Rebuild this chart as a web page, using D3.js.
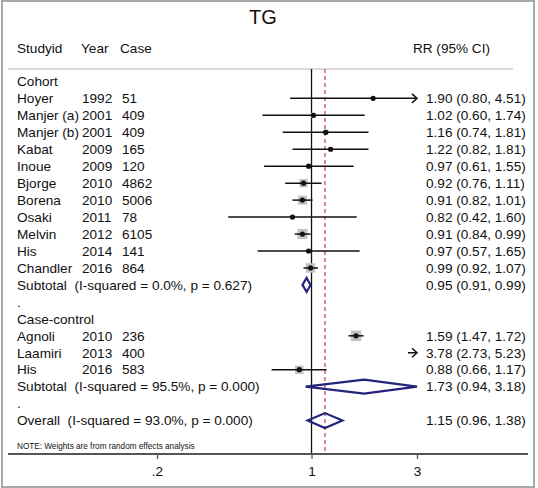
<!DOCTYPE html>
<html>
<head>
<meta charset="utf-8">
<script src="https://cdn.jsdelivr.net/npm/d3@7"></script>
<style>
  html, body { margin: 0; padding: 0; background: #fff; }
  svg { display: block; font-family: "Liberation Sans", Arial, sans-serif; }
  text { white-space: pre; }
</style>
</head>
<body>
<svg id="chart" width="538" height="488"></svg>
<script>
// ---------------- data ----------------
const chartTitle = "TG";
const headerLabels = ["Studyid", "Year", "Case", "RR (95% CI)"];
const groupNames = ["Cohort", "Case-control"];

const studyNames  = ["Hoyer", "Manjer (a)", "Manjer (b)", "Kabat", "Inoue", "Bjorge", "Borena", "Osaki", "Melvin", "His", "Chandler", "Agnoli", "Laamiri", "His"];
const studyGroups = ["Cohort", "Cohort", "Cohort", "Cohort", "Cohort", "Cohort", "Cohort", "Cohort", "Cohort", "Cohort", "Cohort", "Case-control", "Case-control", "Case-control"];
const studyYears  = [1992, 2001, 2001, 2009, 2009, 2010, 2010, 2011, 2012, 2014, 2016, 2010, 2013, 2016];
const studyCases  = [51, 409, 409, 165, 120, 4862, 5006, 78, 6105, 141, 864, 236, 400, 583];
const studyRR     = [1.90, 1.02, 1.16, 1.22, 0.97, 0.92, 0.91, 0.82, 0.91, 0.97, 0.99, 1.59, 3.78, 0.88];
const studyLower  = [0.80, 0.60, 0.74, 0.82, 0.61, 0.76, 0.82, 0.42, 0.84, 0.57, 0.92, 1.47, 2.73, 0.66];
const studyUpper  = [4.51, 1.74, 1.81, 1.81, 1.55, 1.11, 1.01, 1.60, 0.99, 1.65, 1.07, 1.72, 5.23, 1.17];
const studyWeight = [0.4, 2.5, 2.8, 2.0, 2.0, 7.0, 8.0, 1.6, 10.0, 1.8, 9.0, 11.0, 9.0, 7.0];

const subtotalLabels = ["Subtotal  (I-squared = 0.0%, p = 0.627)", "Subtotal  (I-squared = 95.5%, p = 0.000)"];
const subtotalRR    = [0.95, 1.73];
const subtotalLower = [0.91, 0.94];
const subtotalUpper = [0.99, 3.18];

const overallLabel = "Overall  (I-squared = 93.0%, p = 0.000)";
const overallRR = 1.15, overallLower = 0.96, overallUpper = 1.38;

const noteText = "NOTE: Weights are from random effects analysis";
const tickValues = [0.2, 1, 3];
const tickLabels = [".2", "1", "3"];

// ---------------- layout ----------------
const svg = d3.select("#chart");
const fmt = d3.format(".2f");
const fontSize = 13.6;
const navy = "#24237c";
const red = "#c0504d";

const x = d3.scaleLog().domain([0.2, 3]).range([157, 417]);
const xMin = 0.2, xMax = 3;

// rows
const rows = [];
groupNames.forEach((g, gi) => {
  rows.push({ type: "group", label: g });
  studyNames.forEach((n, i) => {
    if (studyGroups[i] === g) rows.push({ type: "study", i });
  });
  rows.push({ type: "subtotal", gi });
  rows.push({ type: "blank" });
});
rows.push({ type: "overall" });

const y = d3.scaleLinear().domain([0, 20]).range([81.4, 81.4 + 20 * 16.96]);
const boxSize = d3.scaleSqrt().domain([0, 11]).range([0, 10.5]);

// frame
svg.append("rect").attr("x", 2).attr("y", 1).attr("width", 532).attr("height", 486)
  .attr("fill", "#fff").attr("stroke", "#8a8a8a").attr("stroke-width", 1.5);

// title
svg.append("text").attr("x", 263).attr("y", 23.5).attr("text-anchor", "middle")
  .attr("font-size", 20).attr("fill", "#111").text(chartTitle);

// header
const colX = [17, 81, 120];
headerLabels.slice(0, 3).forEach((h, k) => {
  svg.append("text").attr("x", colX[k]).attr("y", 48).attr("dy", "0.35em")
    .attr("font-size", fontSize).attr("fill", "#111").text(h);
});
svg.append("text").attr("x", 490).attr("y", 48).attr("dy", "0.35em").attr("text-anchor", "end")
  .attr("font-size", fontSize).attr("fill", "#111").text(headerLabels[3]);

svg.append("line").attr("x1", 8).attr("x2", 513).attr("y1", 69).attr("y2", 69)
  .attr("stroke", "#cfcfcf").attr("stroke-width", 1.5);

// reference lines
svg.append("line").attr("x1", x(1)).attr("x2", x(1)).attr("y1", 69).attr("y2", 454)
  .attr("stroke", "#111").attr("stroke-width", 1.3);
svg.append("line").attr("x1", x(overallRR)).attr("x2", x(overallRR)).attr("y1", 69).attr("y2", 454)
  .attr("stroke", red).attr("stroke-width", 1.3).attr("stroke-dasharray", "4,3");

// axis
svg.append("line").attr("x1", 8).attr("x2", 528).attr("y1", 454).attr("y2", 454)
  .attr("stroke", "#555").attr("stroke-width", 2);
const axis = d3.axisBottom(x).tickValues(tickValues).tickFormat((d, k) => tickLabels[k]).tickSize(5).tickPadding(7);
const axG = svg.append("g").attr("transform", "translate(0,454)").call(axis);
axG.select(".domain").remove();
axG.selectAll(".tick line").attr("stroke", "#555").attr("stroke-width", 1.3);
axG.selectAll(".tick text").attr("font-size", fontSize).attr("fill", "#111")
  .attr("font-family", '"Liberation Sans", Arial, sans-serif');

// note
svg.append("text").attr("x", 17).attr("y", 446.5).attr("dy", "0.35em")
  .attr("font-size", 8.2).attr("fill", "#111").text(noteText);

function diamond(lo, mid, hi, cy, h) {
  const a = x(Math.max(lo, xMin)), m = x(mid), b = x(Math.min(hi, xMax));
  return `M${a},${cy} L${m},${cy - h} L${b},${cy} L${m},${cy + h} Z`;
}
function ciText(rr, lo, hi) {
  return `${fmt(rr)} (${fmt(lo)}, ${fmt(hi)})`;
}

rows.forEach((r, idx) => {
  const cy = y(idx);
  const txt = (xx, s) => svg.append("text").attr("x", xx).attr("y", cy).attr("dy", "0.35em")
    .attr("font-size", fontSize).attr("fill", "#111").text(s);
  if (r.type === "group") {
    txt(17, r.label);
  } else if (r.type === "blank") {
    txt(17, ".");
  } else if (r.type === "study") {
    const i = r.i;
    txt(17, studyNames[i]);
    txt(82, String(studyYears[i]));
    txt(122, String(studyCases[i]));
    txt(426, ciText(studyRR[i], studyLower[i], studyUpper[i]));
    const lo = Math.max(studyLower[i], xMin), hi = Math.min(studyUpper[i], xMax);
    if (studyRR[i] <= xMax && studyRR[i] >= xMin) {
      const s = boxSize(studyWeight[i]);
      svg.append("rect").attr("x", x(studyRR[i]) - s / 2).attr("y", cy - s / 2)
        .attr("width", s).attr("height", s).attr("fill", "#c2c2c2");
    }
    svg.append("line").attr("x1", x(lo)).attr("x2", x(hi)).attr("y1", cy).attr("y2", cy)
      .attr("stroke", "#111").attr("stroke-width", 1.5);
    if (studyUpper[i] > xMax) {
      const ax = x(xMax);
      svg.append("path").attr("d", `M${ax - 5},${cy - 4.5} L${ax},${cy} L${ax - 5},${cy + 4.5}`)
        .attr("fill", "none").attr("stroke", "#111").attr("stroke-width", 1.5);
    }
    if (studyRR[i] <= xMax && studyRR[i] >= xMin) {
      svg.append("circle").attr("cx", x(studyRR[i])).attr("cy", cy).attr("r", 2.6).attr("fill", "#111");
    }
  } else if (r.type === "subtotal") {
    const gi = r.gi;
    txt(17, subtotalLabels[gi]);
    txt(426, ciText(subtotalRR[gi], subtotalLower[gi], subtotalUpper[gi]));
    svg.append("path").attr("d", diamond(subtotalLower[gi], subtotalRR[gi], subtotalUpper[gi], cy, 7))
      .attr("fill", "none").attr("stroke", navy).attr("stroke-width", 2.2).attr("stroke-linejoin", "miter");
  } else if (r.type === "overall") {
    txt(17, overallLabel);
    txt(426, ciText(overallRR, overallLower, overallUpper));
    svg.append("path").attr("d", diamond(overallLower, overallRR, overallUpper, cy, 7.5))
      .attr("fill", "none").attr("stroke", navy).attr("stroke-width", 2.2);
  }
});
</script>
</body>
</html>
